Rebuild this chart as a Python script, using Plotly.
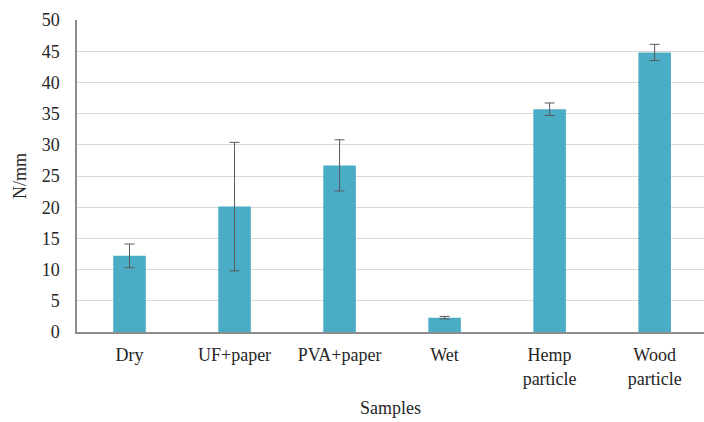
import plotly.graph_objects as go

categories = ["Dry", "UF+paper", "PVA+paper", "Wet", "Hemp<br>particle", "Wood<br>particle"]
values = [12.2, 20.1, 26.7, 2.3, 35.7, 44.8]
errors = [1.9, 10.3, 4.1, 0.2, 1.0, 1.3]
y_ticks = [0, 5, 10, 15, 20, 25, 30, 35, 40, 45, 50]

FONT = "Liberation Serif"
TXT = "#262626"

fig = go.Figure(go.Bar(
    x=list(range(len(categories))),
    y=values,
    marker=dict(color="#4BACC6", line=dict(width=0)),
    error_y=dict(type="data", array=errors, visible=True, color="#595959",
                 thickness=1, width=5),
    width=0.31,
))

fig.update_layout(
    template="none",
    width=704, height=422,
    margin=dict(l=77, r=0, t=20, b=90, autoexpand=False),
    paper_bgcolor="white", plot_bgcolor="white",
    font=dict(family=FONT, size=18, color=TXT),
    showlegend=False,
    xaxis=dict(
        range=[-0.5, 5.47], automargin=False,
        tickmode="array", tickvals=list(range(len(categories))), ticktext=categories,
        tickfont=dict(family=FONT, size=18, color=TXT),
        showgrid=False, showline=True, linecolor="#8c8c8c", linewidth=1.5,
        ticks="", ticklabelstandoff=6,
        title=dict(text="Samples", standoff=14, font=dict(family=FONT, size=18, color=TXT)),
        zeroline=False,
    ),
    yaxis=dict(
        range=[0, 50], tickmode="array", tickvals=y_ticks, automargin=False,
        tickfont=dict(family=FONT, size=18, color=TXT),
        showgrid=True, gridcolor="#d9d9d9", gridwidth=1.3,
        showline=True, linecolor="#8c8c8c", linewidth=1.5,
        zeroline=False, ticks="", ticklabelstandoff=12,
        title=dict(text="N/mm", standoff=10, font=dict(family=FONT, size=18, color=TXT)),
    ),
)

fig.write_html("out.html", config={"displayModeBar": False},
               post_script="document.body.style.margin='0';")
